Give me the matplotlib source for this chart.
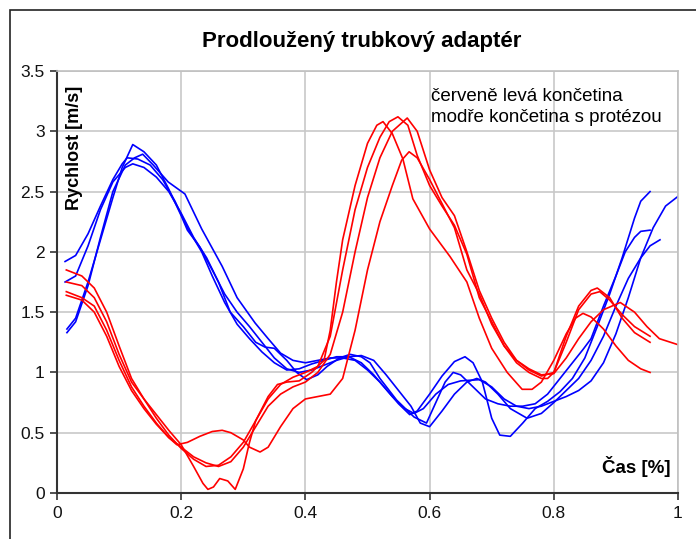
import matplotlib
matplotlib.use('Agg')
import matplotlib.pyplot as plt
from matplotlib.patches import Rectangle

plt.rcParams['font.family'] = ['Liberation Sans', 'DejaVu Sans']

# red curves (leva koncetina)
r1_x = [0.015, 0.04, 0.06, 0.08, 0.10, 0.12, 0.14, 0.16, 0.18, 0.20, 0.22, 0.24, 0.26, 0.28, 0.30, 0.32, 0.34,
        0.36, 0.38, 0.40, 0.42, 0.44, 0.46, 0.48, 0.50, 0.52, 0.535, 0.549, 0.565, 0.58, 0.60, 0.62, 0.64,
        0.66, 0.68, 0.70, 0.72, 0.74, 0.76, 0.78, 0.79, 0.80, 0.82, 0.84, 0.86, 0.87, 0.89, 0.91, 0.93, 0.955]
r1_y = [1.85, 1.80, 1.70, 1.50, 1.22, 0.95, 0.78, 0.62, 0.48, 0.37, 0.28, 0.22, 0.23, 0.30, 0.42, 0.60, 0.78,
        0.90, 0.96, 1.00, 1.05, 1.30, 1.85, 2.35, 2.70, 2.95, 3.08, 3.12, 3.05, 2.80, 2.55, 2.38, 2.22,
        1.98, 1.62, 1.42, 1.22, 1.08, 1.00, 0.95, 0.95, 1.00, 1.30, 1.55, 1.68, 1.70, 1.62, 1.45, 1.33, 1.25]

r2_x = [0.015, 0.04, 0.06, 0.08, 0.10, 0.12, 0.14, 0.16, 0.18, 0.20, 0.22, 0.235, 0.243, 0.252, 0.262, 0.275,
        0.287, 0.30, 0.31, 0.32, 0.34, 0.355, 0.37, 0.39, 0.41, 0.43, 0.44, 0.45, 0.46, 0.48, 0.50, 0.515,
        0.525, 0.54, 0.557, 0.573, 0.60, 0.633, 0.66, 0.68, 0.70, 0.725, 0.749, 0.765, 0.78, 0.80, 0.82,
        0.835, 0.847, 0.86, 0.88, 0.90, 0.92, 0.94, 0.955]
r2_y = [1.75, 1.72, 1.62, 1.42, 1.15, 0.92, 0.78, 0.65, 0.52, 0.40, 0.22, 0.08, 0.03, 0.05, 0.12, 0.10,
        0.03, 0.20, 0.42, 0.60, 0.80, 0.90, 0.92, 0.93, 1.00, 1.10, 1.35, 1.75, 2.10, 2.55, 2.90, 3.05,
        3.08, 2.98, 2.77, 2.44, 2.19, 1.96, 1.75, 1.45, 1.20, 1.00, 0.86, 0.86, 0.92, 1.10, 1.32,
        1.45, 1.49, 1.46, 1.36, 1.22, 1.10, 1.03, 1.00]

r3_x = [0.015, 0.04, 0.06, 0.08, 0.10, 0.12, 0.14, 0.16, 0.18, 0.20, 0.22, 0.24, 0.26, 0.28, 0.30, 0.32, 0.34,
        0.36, 0.38, 0.40, 0.42, 0.44, 0.46, 0.48, 0.50, 0.52, 0.54, 0.564, 0.58, 0.60, 0.62, 0.64, 0.66,
        0.68, 0.70, 0.72, 0.74, 0.76, 0.78, 0.80, 0.82, 0.84, 0.86, 0.874, 0.89, 0.91, 0.93, 0.955]
r3_y = [1.67, 1.62, 1.55, 1.35, 1.10, 0.88, 0.72, 0.58, 0.46, 0.38, 0.30, 0.25, 0.22, 0.26, 0.38, 0.55, 0.72,
        0.82, 0.88, 0.92, 1.00, 1.15, 1.50, 2.00, 2.45, 2.78, 3.00, 3.11, 3.00, 2.68, 2.45, 2.30, 2.00,
        1.68, 1.45, 1.25, 1.10, 1.02, 0.97, 1.00, 1.25, 1.52, 1.65, 1.67, 1.60, 1.48, 1.38, 1.30]

r4_x = [0.015, 0.04, 0.06, 0.08, 0.10, 0.12, 0.14, 0.16, 0.18, 0.193, 0.21, 0.23, 0.25, 0.266, 0.28, 0.30,
        0.31, 0.327, 0.34, 0.36, 0.38, 0.40, 0.42, 0.44, 0.46, 0.48, 0.50, 0.52, 0.54, 0.555, 0.567, 0.58,
        0.60, 0.62, 0.64, 0.66, 0.68, 0.70, 0.72, 0.74, 0.76, 0.78, 0.80, 0.82, 0.84, 0.86, 0.88, 0.907,
        0.93, 0.95, 0.97, 1.0]
r4_y = [1.64, 1.60, 1.50, 1.30, 1.05, 0.85, 0.70, 0.57, 0.46, 0.40, 0.42, 0.47, 0.51, 0.52, 0.50, 0.44,
        0.38, 0.34, 0.38, 0.55, 0.70, 0.78, 0.80, 0.82, 0.95, 1.35, 1.85, 2.25, 2.55, 2.76, 2.83, 2.78,
        2.60, 2.40, 2.20, 1.85, 1.65, 1.40, 1.22, 1.10, 1.03, 0.98, 0.99, 1.12, 1.28, 1.42, 1.52, 1.58,
        1.50, 1.38, 1.28, 1.23]

# blue curves (koncetina s protezou)
b1_x = [0.013, 0.03, 0.05, 0.07, 0.09, 0.105, 0.113, 0.13, 0.15, 0.17, 0.19, 0.21, 0.233, 0.25, 0.27, 0.29,
        0.31, 0.33, 0.35, 0.37, 0.39, 0.41, 0.43, 0.45, 0.47, 0.49, 0.51, 0.53, 0.55, 0.568, 0.58, 0.60,
        0.62, 0.64, 0.657, 0.67, 0.685, 0.70, 0.713, 0.73, 0.75, 0.77, 0.79, 0.81, 0.83, 0.85, 0.87, 0.89,
        0.91, 0.93, 0.94, 0.955]
b1_y = [1.92, 1.97, 2.15, 2.38, 2.60, 2.73, 2.78, 2.77, 2.72, 2.60, 2.42, 2.20, 2.00, 1.80, 1.58, 1.40,
        1.28, 1.17, 1.08, 1.02, 1.03, 1.07, 1.10, 1.13, 1.13, 1.08, 0.98, 0.86, 0.74, 0.65, 0.68, 0.82,
        0.97, 1.09, 1.13, 1.08, 0.92, 0.62, 0.48, 0.47, 0.58, 0.70, 0.76, 0.84, 0.95, 1.12, 1.38, 1.65,
        1.95, 2.28, 2.42, 2.50]

b2_x = [0.013, 0.03, 0.05, 0.07, 0.09, 0.11, 0.122, 0.14, 0.16, 0.18, 0.20, 0.22, 0.241, 0.26, 0.279, 0.30,
        0.32, 0.335, 0.35, 0.37, 0.386, 0.402, 0.42, 0.435, 0.455, 0.472, 0.49, 0.504, 0.52, 0.547, 0.575,
        0.595, 0.61, 0.625, 0.638, 0.65, 0.67, 0.69, 0.71, 0.73, 0.75, 0.77, 0.79, 0.81, 0.83, 0.847, 0.86,
        0.88, 0.90, 0.915, 0.93, 0.94, 0.955]
b2_y = [1.75, 1.80, 2.05, 2.35, 2.58, 2.70, 2.73, 2.70, 2.62, 2.50, 2.32, 2.12, 1.95, 1.75, 1.50, 1.38,
        1.25, 1.21, 1.20, 1.10, 1.00, 0.94, 0.98, 1.05, 1.12, 1.15, 1.13, 1.08, 0.95, 0.77, 0.63,
        0.58, 0.75, 0.92, 1.00, 0.98, 0.88, 0.78, 0.74, 0.72, 0.72, 0.74, 0.82, 0.95, 1.08, 1.19, 1.28,
        1.55, 1.80, 2.00, 2.12, 2.17, 2.18]

b3_x = [0.016, 0.03, 0.05, 0.07, 0.09, 0.105, 0.122, 0.14, 0.16, 0.18, 0.20, 0.21, 0.23, 0.25, 0.27, 0.29,
        0.31, 0.33, 0.35, 0.37, 0.39, 0.41, 0.43, 0.45, 0.47, 0.49, 0.51, 0.53, 0.55, 0.57, 0.585, 0.60,
        0.62, 0.64, 0.66, 0.676, 0.69, 0.71, 0.73, 0.757, 0.78, 0.80, 0.82, 0.84, 0.86, 0.88, 0.90, 0.92,
        0.94, 0.955, 0.971]
b3_y = [1.36, 1.45, 1.75, 2.10, 2.45, 2.70, 2.89, 2.83, 2.72, 2.52, 2.30, 2.18, 2.04, 1.85, 1.65, 1.50,
        1.38, 1.25, 1.12, 1.03, 1.00, 1.02, 1.06, 1.10, 1.13, 1.14, 1.10, 0.98, 0.85, 0.72, 0.58, 0.55,
        0.68, 0.82, 0.92, 0.95, 0.92, 0.82, 0.70, 0.62, 0.66, 0.75, 0.85, 0.95, 1.10, 1.30, 1.55, 1.78,
        1.95, 2.05, 2.10]

b4_x = [0.016, 0.03, 0.05, 0.07, 0.09, 0.11, 0.125, 0.138, 0.155, 0.179, 0.206, 0.233, 0.266, 0.29, 0.319,
        0.34, 0.36, 0.38, 0.40, 0.42, 0.44, 0.46, 0.48, 0.50, 0.52, 0.54, 0.56, 0.575, 0.59, 0.61, 0.63,
        0.65, 0.68, 0.70, 0.72, 0.74, 0.76, 0.78, 0.80, 0.82, 0.84, 0.86, 0.88, 0.90, 0.92, 0.94, 0.96,
        0.98, 1.0]
b4_y = [1.33, 1.42, 1.72, 2.12, 2.50, 2.72, 2.78, 2.81, 2.72, 2.58, 2.48, 2.19, 1.88, 1.62, 1.41,
        1.28, 1.16, 1.10, 1.08, 1.10, 1.12, 1.12, 1.10, 1.02, 0.92, 0.80, 0.70, 0.66, 0.70, 0.82, 0.90,
        0.93, 0.94, 0.88, 0.78, 0.72, 0.70, 0.72, 0.76, 0.80, 0.85, 0.93, 1.08, 1.32, 1.62, 1.95, 2.20,
        2.38, 2.46]

red = [(r1_x, r1_y), (r2_x, r2_y), (r3_x, r3_y), (r4_x, r4_y)]
blue = [(b1_x, b1_y), (b2_x, b2_y), (b3_x, b3_y), (b4_x, b4_y)]

x_ticks = [0, 0.2, 0.4, 0.6, 0.8, 1]
x_labels = ['0', '0.2', '0.4', '0.6', '0.8', '1']
y_ticks = [0, 0.5, 1, 1.5, 2, 2.5, 3, 3.5]
y_labels = ['0', '0.5', '1', '1.5', '2', '2.5', '3', '3.5']

fig = plt.figure(figsize=(6.96, 5.39), dpi=100)
ax = fig.add_axes([57 / 696, 1 - 493 / 539, 621 / 696, 422 / 539])

# outer chart frame
fig.patches.append(Rectangle((10 / 696, -0.1), 1.1, 1.1 - 10 / 539, transform=fig.transFigure,
                             fill=False, edgecolor='#222222', linewidth=1.2))

for x, y in blue:
    ax.plot(x, y, color='#0000ff', lw=1.2)
for x, y in red:
    ax.plot(x, y, color='#ff0000', lw=1.2)

ax.set_xlim(0, 1)
ax.set_ylim(0, 3.5)
ax.set_xticks(x_ticks)
ax.set_xticklabels(x_labels)
ax.set_yticks(y_ticks)
ax.set_yticklabels(y_labels)
ax.grid(True, color='#c8c8c8', lw=1.2)
ax.set_axisbelow(True)
for s in ['top', 'right']:
    ax.spines[s].set_color('#c0c0c0')
    ax.spines[s].set_linewidth(1.2)
for s in ['left', 'bottom']:
    ax.spines[s].set_color('#333333')
    ax.spines[s].set_linewidth(1.5)
ax.tick_params(direction='out', length=5, width=1.2, color='#333333', labelsize=12.5, pad=4,
               labelcolor='#111111')

fig.text(362 / 696, 1 - 41 / 539, 'Prodloužený trubkový adaptér', ha='center', va='center',
         fontsize=16, fontweight='bold')
ax.text(0.028, 0.965, 'Rychlost [m/s]', transform=ax.transAxes, rotation=90, ha='center', va='top',
        fontsize=13, fontweight='bold')
ax.text(0.988, 0.063, 'Čas [%]', transform=ax.transAxes, ha='right', va='center',
        fontsize=13.5, fontweight='bold')
ax.text(0.603, 0.96, 'červeně levá končetina\nmodře končetina s protézou', transform=ax.transAxes,
        ha='left', va='top', fontsize=13.5, linespacing=1.3)

fig.savefig('out.png', dpi=100)
